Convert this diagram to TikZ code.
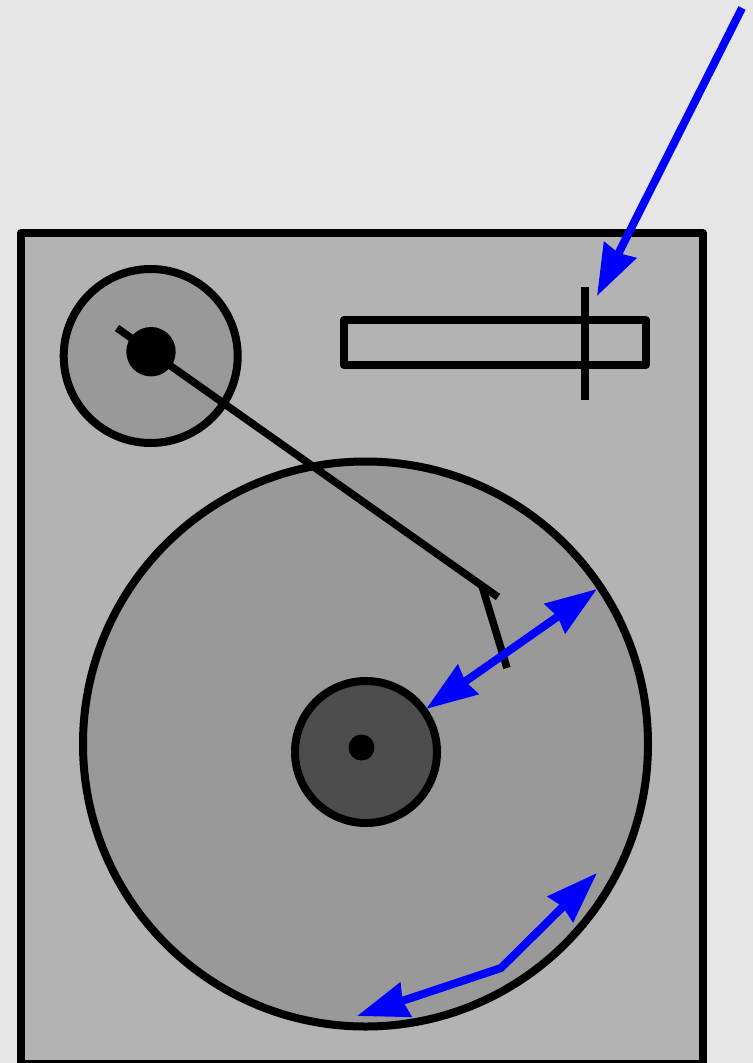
\documentclass[tikz,border=0pt]{standalone}
\usetikzlibrary{arrows.meta}
\definecolor{bgc}{HTML}{E6E6E6}
\definecolor{panelc}{HTML}{B3B3B3}
\definecolor{platterc}{HTML}{999999}
\definecolor{hubc}{HTML}{4D4D4D}
\definecolor{bluec}{HTML}{0000FF}
\tikzset{
  part/.style={draw=black,line width=8pt,line join=round},
  ink/.style={draw=black,line width=7.5pt},
  bluearrow/.style={draw=bluec,line width=8pt,line join=round,
    -{Stealth[length=51pt,width=35pt,inset=3pt,bluec]}},
  bluearrowboth/.style={draw=bluec,line width=8pt,line join=round,
    {Stealth[length=51pt,width=35pt,inset=3pt,bluec]}-{Stealth[length=51pt,width=35pt,inset=3pt,bluec]}}
}
\begin{document}
\begin{tikzpicture}[x=1pt,y=-1pt]
\useasboundingbox (0,0) rectangle (753,1063);
\clip (0,0) rectangle (753,1063);
\fill[bgc] (0,0) rectangle (753,1063);
% body
\draw[part,fill=panelc] (21,233) rectangle (703,1064);
% tonearm base
\path[part,fill=platterc] (150.7,356) circle[radius=87];
\fill[black] (151,351.7) circle[radius=24.7];
% slider
\draw[part] (344,320) rectangle (645.5,365);
\coordinate (sliderTop) at (585,287);
\coordinate (sliderBottom) at (585,400);
\draw[ink] (sliderTop) -- (sliderBottom);
% platter
\path[part,fill=platterc] (365.5,744) circle[radius=282.5];
\path[part,fill=hubc] (366,752) circle[radius=71];
\fill[black] (361.5,747.5) circle[radius=13];
% arm
\coordinate (armStart) at (117,328);
\coordinate (armElbow) at (482,586);
\coordinate (armEnd) at (498,597);
\coordinate (shellEnd) at (507,668);
\draw[ink] (armStart) -- (armEnd);
\draw[ink] (armElbow) -- (shellEnd);
% blue arrows
\coordinate (a1s) at (742,8);
\coordinate (a1e) at (597,296);
\draw[bluearrow] (a1s) -- (a1e);
\coordinate (a2s) at (426,709);
\coordinate (a2e) at (597,589);
\draw[bluearrowboth] (a2s) -- (a2e);
\coordinate (a3s) at (357,1016);
\coordinate (a3m) at (501,968);
\coordinate (a3e) at (597,873);
\draw[bluearrowboth] (a3s) -- (a3m) -- (a3e);
\end{tikzpicture}
\end{document}
